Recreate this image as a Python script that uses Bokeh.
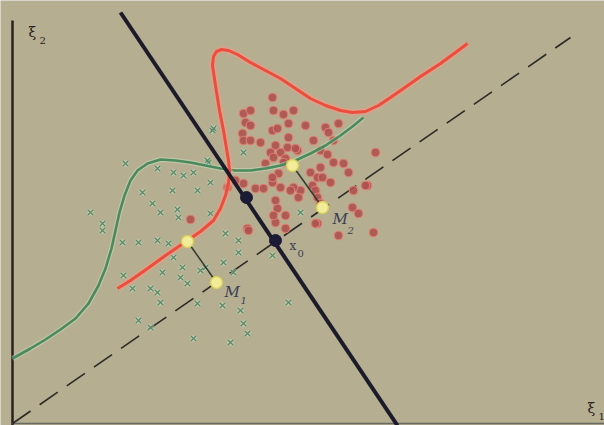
from bokeh.plotting import figure
from bokeh.models import Range1d
from bokeh.embed import file_html
from bokeh.resources import INLINE
from bokeh.core.properties import value

# ---- data (picture coordinates, y measured downward) ----
green_x = [125,142,152,160,173,183,193,210,197,172,178,177,208,90,102,213,102,122,138,157,
           168,173,182,162,123,132,150,157,160,138,150,180,187,197,193,200,225,238,238,223,
           272,233,205,222,240,288,300,210,212,243,207,157,247,230,243]
green_y = [163,192,203,212,172,175,172,182,190,190,217,209,162,212,223,128,230,242,242,240,
           243,257,267,272,275,288,288,292,302,320,327,277,283,303,338,270,233,240,252,262,
           255,272,267,305,310,302,212,213,130,152,160,168,333,342,323]

red_x = [272,243,250,273,283,293,245,250,288,272,277,305,325,338,242,288,313,328,243,250,
         260,275,287,297,270,280,320,327,273,285,265,333,343,320,375,278,310,317,333,322,
         330,348,367,312,300,315,317,352,358,317,338,373,298,293,235,243,255,263,272,280,
         290,275,277,285,272,227,275,285,247,315,320,365,353,273,190,248,295,283]
red_y = [97,113,110,110,114,110,122,125,123,130,128,125,127,123,133,137,140,132,140,140,
         142,145,147,150,152,152,150,154,157,158,163,162,163,167,152,173,172,177,140,177,
         182,172,185,185,190,190,197,207,213,223,235,232,197,187,180,183,188,188,182,187,
         190,200,208,215,177,187,222,228,228,223,203,185,190,215,219,230,148,162]

green_curve_x = [12,30,45,60,75,88,98,105,111,115,119,124,130,137,147,160,175,190,205,220,
                 235,250,265,280,295,310,325,340,352,363]
green_curve_y = [358,348,339,329,318,303,285,268,248,230,212,195,180,170,163,159,160,162,165,168,
                 170,170,168,165,160,153,145,135,126,117]

red_curve_x = [117,130,147,165,187,200,213,220,225,228,229,228,226,223,219,215,212,213,216,221,
               228,237,250,265,280,295,310,325,340,352,365,378,390,403,420,440,455,467]
red_curve_y = [288,280,268,255,240,231,220,208,195,183,170,160,148,130,110,85,65,56,51,49,
               50,54,62,70,78,88,98,105,110,112,111,105,97,88,76,63,52,43]

disc_x = [120, 397]          # separating line
disc_y = [12, 425]
proj_x = [12, 570]           # projection direction (dashed)
proj_y = [423, 37]
axis_v_x = [12, 12]
axis_v_y = [20, 425]
axis_h_x = [12, 604]
axis_h_y = [423, 423]

black_pts_x = [246, 275]
black_pts_y = [197, 240]
yellow_x = [187, 216, 292, 322]
yellow_y = [241, 282, 165, 207]
seg_x0 = [187, 292]
seg_y0 = [241, 165]
seg_x1 = [216, 322]
seg_y1 = [282, 207]

BG = "#b6ae90"

p = figure(width=604, height=425, output_backend="svg", toolbar_location=None,
           x_range=Range1d(0, 604), y_range=Range1d(425, 0),
           min_border=0, background_fill_color=BG, border_fill_color=BG)
p.outline_line_color = None
p.axis.visible = False
p.grid.visible = False

# axes of the feature plane
p.line(axis_v_x, axis_v_y, line_color="#2b2020", line_width=2.5)
p.line(axis_h_x, axis_h_y, line_color="#6b6a60", line_width=1.5)

# dashed projection line
p.line(proj_x, proj_y, line_color="#2c2a26", line_width=1.6, line_dash="22 11")

# points
p.scatter(green_x, green_y, marker="x", size=8, line_color="#d6e6cf", line_width=3.2, line_alpha=0.5)
p.scatter(green_x, green_y, marker="x", size=8, line_color="#5a8a66", line_width=1.3)
p.scatter(red_x, red_y, marker="circle", size=8.5, fill_color="#ad5250", fill_alpha=0.9,
          line_color="#dc7d70", line_width=1.2)

# density curves
p.line(green_curve_x, green_curve_y, line_color="#c6dcc2", line_width=5, line_alpha=0.5)
p.line(green_curve_x, green_curve_y, line_color="#4b8a5a", line_width=2.6)
p.line(red_curve_x, red_curve_y, line_color="#f39a86", line_width=6.5, line_alpha=0.55)
p.line(red_curve_x, red_curve_y, line_color="#ec4d3c", line_width=3)

# discriminant line
p.line(disc_x, disc_y, line_color="#1c1b2c", line_width=4)

# projection segments
p.segment(seg_x0, seg_y0, seg_x1, seg_y1, line_color="#2f3a30", line_width=1.5)

p.scatter(black_pts_x, black_pts_y, size=12, fill_color="#1c1b35", line_color="#1c1b35")
p.scatter(yellow_x, yellow_y, size=12, fill_color="#f1eb9a", line_color="#d7cf5a", line_width=1.5)

# labels
serif = value("DejaVu Serif")
p.text([28], [39], text=["ξ"], text_font=serif, text_font_size="14px", text_color="#2b2020")
p.text([39], [43], text=["2"], text_font=serif, text_font_size="10px", text_color="#2b2020")
p.text([587], [415], text=["ξ"], text_font=serif, text_font_size="14px", text_color="#2b2020")
p.text([598], [419], text=["1"], text_font=serif, text_font_size="10px", text_color="#2b2020")
p.text([224], [300], text=["M"], text_font=serif, text_font_style="italic",
       text_font_size="15px", text_color="#3a3f55")
p.text([240], [303], text=["1"], text_font=serif, text_font_style="italic",
       text_font_size="10px", text_color="#3a3f55")
p.text([332], [227], text=["M"], text_font=serif, text_font_style="italic",
       text_font_size="15px", text_color="#3a3f55")
p.text([347], [233], text=["2"], text_font=serif, text_font_style="italic",
       text_font_size="10px", text_color="#3a3f55")
p.text([289], [252], text=["x"], text_font=serif, text_font_size="12px", text_color="#3a3f55")
p.text([297], [256], text=["0"], text_font=serif, text_font_size="10px", text_color="#3a3f55")

open("out.html", "w").write(file_html(p, INLINE))
